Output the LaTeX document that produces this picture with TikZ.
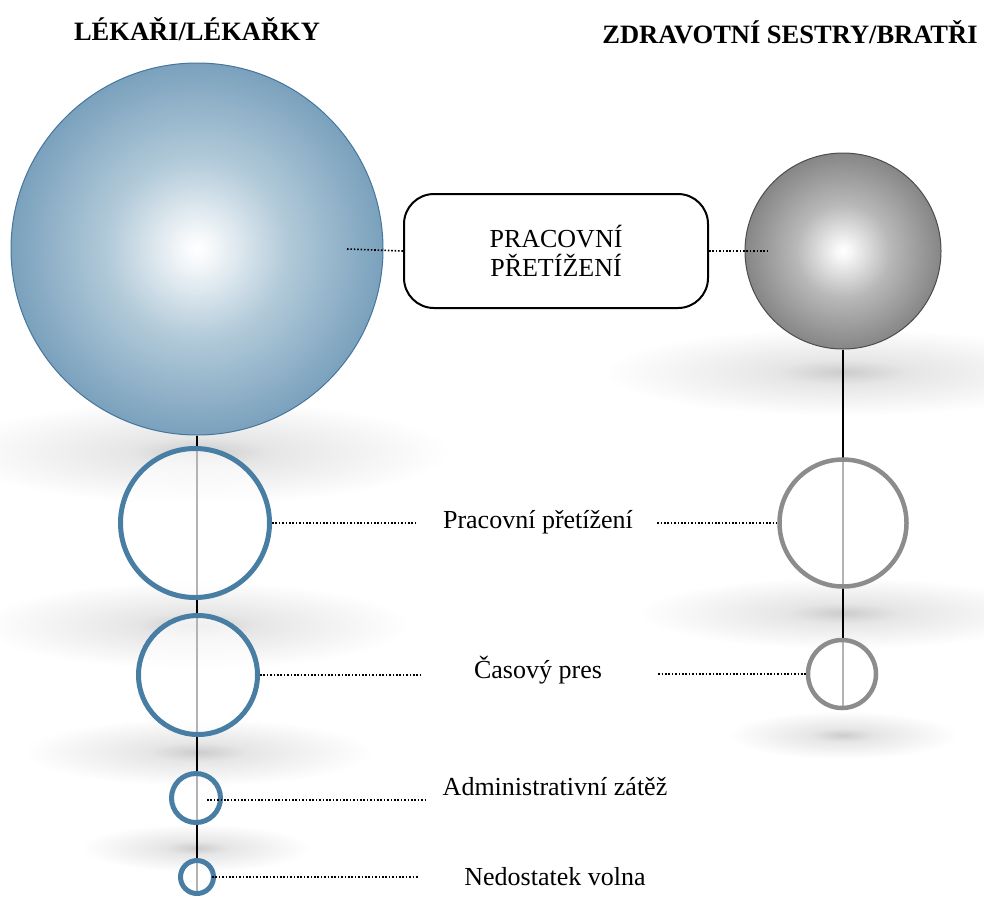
\documentclass[tikz,border=0pt]{standalone}
\usepackage{fontspec}
\setmainfont{Liberation Serif}
\definecolor{bedge}{RGB}{122,161,189}
\definecolor{bmid}{RGB}{178,202,217}
\definecolor{bcore}{RGB}{245,248,250}
\definecolor{bborder}{RGB}{70,118,156}
\definecolor{bring}{RGB}{72,126,164}
\definecolor{gedge}{RGB}{134,134,134}
\definecolor{gmid}{RGB}{184,184,184}
\definecolor{gcore}{RGB}{246,246,246}
\definecolor{gring}{RGB}{140,140,140}
\definecolor{shadowc}{RGB}{204,204,204}
\definecolor{shadowm}{RGB}{230,230,230}
\pgfdeclareradialshading{blueball}{\pgfpoint{0bp}{0bp}}{color(0bp)=(white); color(2bp)=(bcore); color(12bp)=(bmid); color(25bp)=(bedge); color(50bp)=(bedge)}
\pgfdeclareradialshading{greyball}{\pgfpoint{0bp}{0bp}}{color(0bp)=(white); color(2bp)=(gcore); color(12bp)=(gmid); color(25bp)=(gedge); color(50bp)=(gedge)}
\pgfdeclareradialshading{softshadow}{\pgfpointorigin}{color(0bp)=(shadowc); color(7bp)=(shadowm); color(25bp)=(white); color(50bp)=(white)}
\begin{document}
\begin{tikzpicture}[x=1pt,y=-1pt,
  shadowfill/.style={shading=softshadow},
  bigblue/.style={circle, draw=bborder, line width=1pt, shading=blueball, minimum size=372pt, inner sep=0pt},
  biggrey/.style={circle, draw=black!70, line width=1pt, shading=greyball, minimum size=196pt, inner sep=0pt},
  bluering/.style={circle, draw=bring, line width=5pt, fill=white, fill opacity=0.7, inner sep=0pt},
  greyring/.style={circle, draw=gring, line width=4.5pt, fill=white, fill opacity=0.7, inner sep=0pt},
  labeltext/.style={inner sep=0pt, font=\fontsize{26}{29}\selectfont},
  titletext/.style={inner sep=0pt, font=\fontsize{26.5}{30}\selectfont\bfseries},
  boxstyle/.style={draw=black, line width=2pt, rounded corners=30pt, minimum width=304pt, minimum height=114pt, align=center, font=\fontsize{26}{29}\selectfont, fill=white},
  dots/.style={line width=1.6pt, dash pattern=on 1.6pt off 1.8pt},
  stem/.style={line width=2pt, black}]
\useasboundingbox (0,0) rectangle (984,903);
% shadows
\shade[shadowfill] (200,452) ellipse [x radius=250pt, y radius=52pt];
\shade[shadowfill] (195,625) ellipse [x radius=215pt, y radius=44pt];
\shade[shadowfill] (198,752) ellipse [x radius=175pt, y radius=34pt];
\shade[shadowfill] (196,848) ellipse [x radius=115pt, y radius=24pt];
\shade[shadowfill] (843,372) ellipse [x radius=240pt, y radius=44pt];
\shade[shadowfill] (843,613) ellipse [x radius=205pt, y radius=36pt];
\shade[shadowfill] (843,735) ellipse [x radius=115pt, y radius=24pt];
% titles
\node[titletext] (T1) at (197,29) {LÉKAŘI/LÉKAŘKY};
\node[titletext] (T2) at (790,32) {ZDRAVOTNÍ SESTRY/BRATŘI};
% balls
\node[bigblue] (L) at (197,249) {};
\node[biggrey] (R) at (843,251) {};
\node[boxstyle] (box) at (556,251) {PRACOVNÍ\\PŘETÍŽENÍ};
% ring positions
\path (195,523) coordinate (c1)
      (198,675) coordinate (c2)
      (196,798) coordinate (c3)
      (197,877) coordinate (c4)
      (843,523) coordinate (d1)
      (842,674) coordinate (d2);
\coordinate (stemL) at (197,895);
\coordinate (stemR) at (843,709);
% stems behind rings
\draw[stem] (L.south) -- (stemL);
\draw[stem] (R.south) -- (stemR);
% rings on top of stems
\node[bluering, minimum size=149pt] (b1) at (c1) {};
\node[bluering, minimum size=119pt] (b2) at (c2) {};
\node[bluering, minimum size=49pt] (b3) at (c3) {};
\node[bluering, minimum size=33pt] (b4) at (c4) {};
\node[greyring, minimum size=127pt] (g1) at (d1) {};
\node[greyring, minimum size=68pt] (g2) at (d2) {};
% labels
\node[labeltext] (t1) at (538,522) {Pracovní přetížení};
\node[labeltext] (t2) at (538,670) {Časový pres};
\node[labeltext] (t3) at (555,787) {Administrativní zátěž};
\node[labeltext] (t4) at (555,877) {Nedostatek volna};
\coordinate (e1) at ([xshift=-26pt]t1.west);
\coordinate (f1) at ([xshift=24pt]t1.east);
\coordinate (e2) at ([xshift=-54pt]t2.west);
\coordinate (f2) at ([xshift=56pt]t2.east);
\coordinate (e3) at ([xshift=-16pt]t3.west);
\coordinate (e4) at ([xshift=-45pt]t4.west);
\coordinate (p3) at ([xshift=11pt,yshift=-2pt]b3.center);
\coordinate (p4) at ([xshift=15pt]b4.center);
% dotted connectors
\draw[dots] ([xshift=150pt]L.center) -- (box.west);
\draw[dots] (box.east) -- ([xshift=-73pt]R.center);
\draw[dots] (b1.east) -- (e1 |- b1.east);
\draw[dots] (f1 |- g1.west) -- (g1.west);
\draw[dots] (b2.east) -- (e2 |- b2.east);
\draw[dots] (f2 |- g2.west) -- (g2.west);
\draw[dots] (p3) -- (e3 |- p3);
\draw[dots] (p4) -- (e4 |- p4);
\end{tikzpicture}
\end{document}
